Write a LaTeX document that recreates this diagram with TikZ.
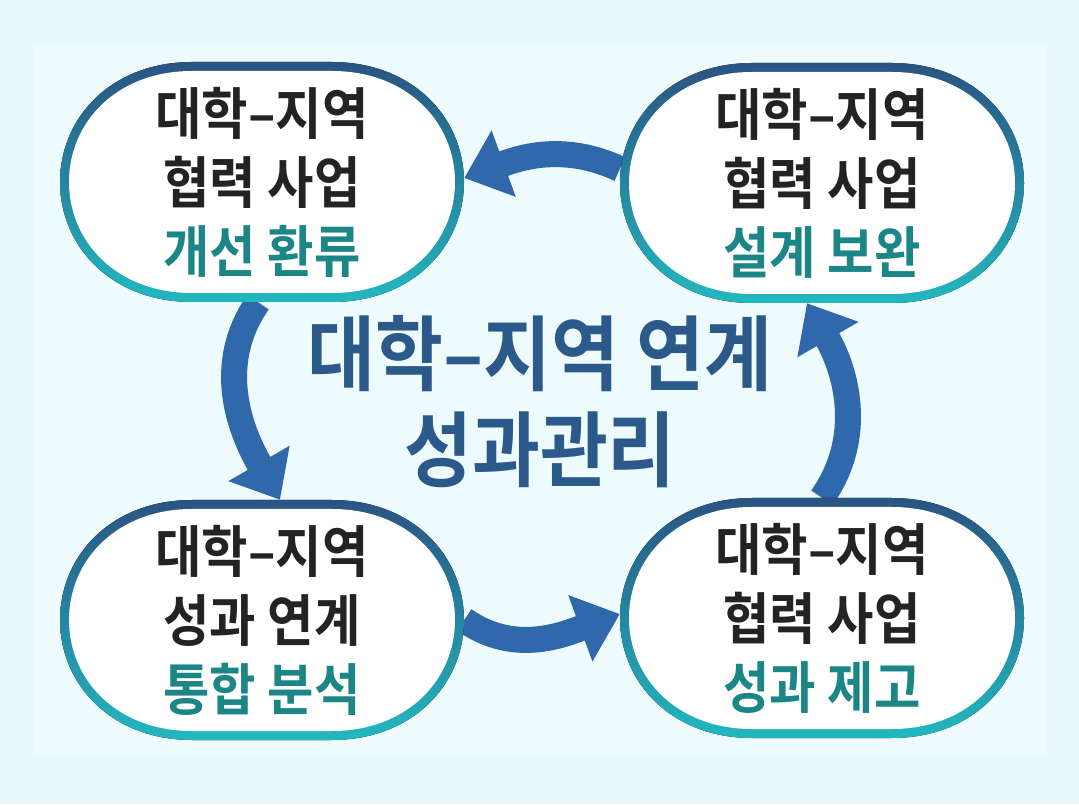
\documentclass[tikz,border=0pt]{standalone}
\usepackage{fontspec}
\usetikzlibrary{arrows.meta}
\newfontfamily\krb{Noto Sans CJK KR Bold}[FakeStretch=0.9]
\newfontfamily\krt{Noto Sans CJK KR Bold}[FakeStretch=0.9]
\definecolor{bgout}{HTML}{E8F8FA}
\definecolor{bgin}{HTML}{EEFBFC}
\definecolor{arrowblue}{HTML}{2F68AB}
\definecolor{rimtop}{HTML}{2A5482}
\definecolor{rimbot}{HTML}{22B8C0}
\definecolor{titleblue}{HTML}{2B5A8A}
\definecolor{tealtext}{HTML}{1C8686}
\definecolor{inktext}{HTML}{232323}
\pgfdeclarelayer{bglayer}
\pgfdeclarelayer{arrowlayer}
\pgfsetlayers{bglayer,arrowlayer,main}
\tikzset{
  rim/.style={rectangle, minimum width=404pt, minimum height=240pt, inner sep=0pt, draw=none},
  ovalrim/.pic={
    \fill[top color=rimtop, bottom color=rimbot]
      (-70,120) -- (70,120) .. controls (150,120) and (202,65) .. (202,0)
      .. controls (202,-65) and (150,-120) .. (70,-120)
      -- (-70,-120) .. controls (-150,-120) and (-202,-65) .. (-202,0)
      .. controls (-202,65) and (-150,120) .. (-70,120) -- cycle;
    \fill[white]
      (-70,111) -- (70,111) .. controls (145,111) and (193,60) .. (193,0)
      .. controls (193,-60) and (145,-111) .. (70,-111)
      -- (-70,-111) .. controls (-145,-111) and (-193,-60) .. (-193,0)
      .. controls (-193,60) and (-145,111) .. (-70,111) -- cycle;
  },
  core/.style={inner sep=0pt, align=center, font=\krb\fontsize{56}{69}\selectfont, text=inktext},
  cycarrow/.style={draw=arrowblue, line width=26pt, -{Triangle[length=42pt,width=68pt]}},
  titletext/.style={font=\krt\fontsize{82}{96}\selectfont, text=titleblue, align=center, inner sep=0pt}
}
\begin{document}
\begin{tikzpicture}[x=1pt,y=1pt]
\begin{pgfonlayer}{bglayer}
\fill[bgout] (0,0) rectangle (1079,804);
\fill[bgin] (33,47) rectangle (1047,761);
\end{pgfonlayer}
\useasboundingbox (0,0) rectangle (1079,804);

\node[rim] (tlr) at (262,622) {};
\pic at (tlr.center) {ovalrim};
\node[core] (tl) at (tlr.center) {대학–지역\\협력 사업\\\textcolor{tealtext}{개선 환류}};
\node[rim] (trr) at (822,621) {};
\pic at (trr.center) {ovalrim};
\node[core] (tr) at (trr.center) {대학–지역\\협력 사업\\\textcolor{tealtext}{설계 보완}};
\node[rim] (blr) at (262,184) {};
\pic at (blr.center) {ovalrim};
\node[core] (bl) at (blr.center) {대학–지역\\성과 연계\\\textcolor{tealtext}{통합 분석}};
\node[rim] (brr) at (822,186) {};
\pic at (brr.center) {ovalrim};
\node[core] (br) at (brr.center) {대학–지역\\협력 사업\\\textcolor{tealtext}{성과 제고}};

\node[titletext] (title) at (540,402) {대학–지역 연계\\성과관리};

\begin{pgfonlayer}{arrowlayer}
\draw[cycarrow] ([yshift=14pt]trr.west) to[out=155,in=20] ([yshift=4pt]tlr.east);
\draw[cycarrow] ([xshift=-4pt]tlr.south) to[out=235,in=120] ([xshift=18pt]blr.north);
\draw[cycarrow] (blr.east) to[out=-35,in=200] ([yshift=4pt]brr.west);
\draw[cycarrow] (brr.north) to[out=55,in=-60] ([xshift=-15pt]trr.south);
\end{pgfonlayer}
\end{tikzpicture}
\end{document}
